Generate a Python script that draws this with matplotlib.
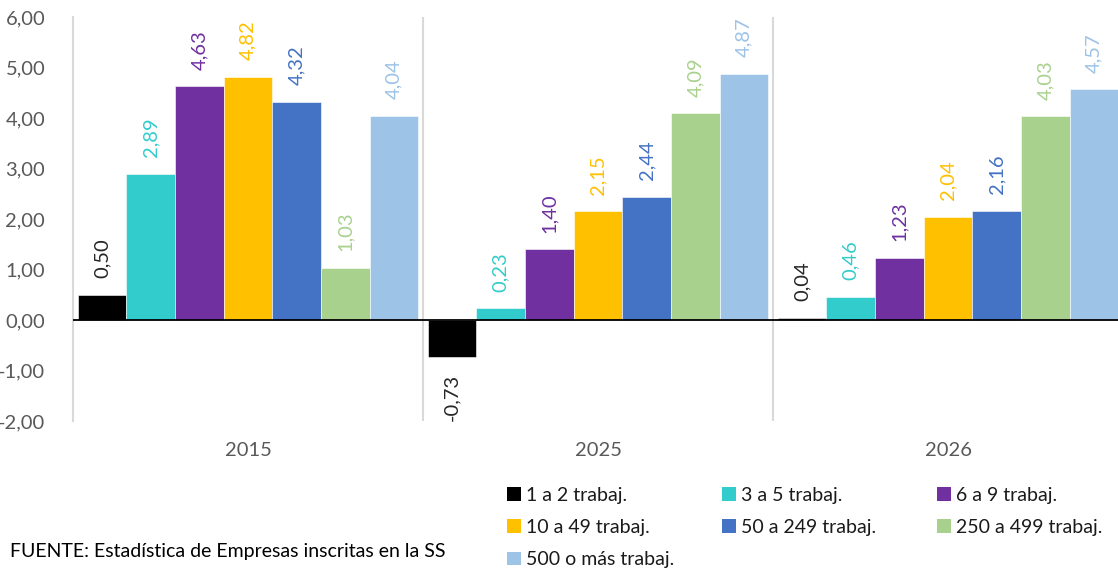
import numpy as np
import matplotlib
matplotlib.use("Agg")
import matplotlib.pyplot as plt
from matplotlib.patches import Patch

plt.rcParams['font.family'] = ['Lato', 'DejaVu Sans']

years = ["2015", "2025", "2026"]
series_names = ["1 a 2 trabaj.", "3 a 5 trabaj.", "6 a 9 trabaj.", "10 a 49 trabaj.",
                "50 a 249 trabaj.", "250 a 499 trabaj.", "500 o más trabaj."]
v_1_2 = [0.50, -0.73, 0.04]
v_3_5 = [2.89, 0.23, 0.46]
v_6_9 = [4.63, 1.40, 1.23]
v_10_49 = [4.82, 2.15, 2.04]
v_50_249 = [4.32, 2.44, 2.16]
v_250_499 = [1.03, 4.09, 4.03]
v_500 = [4.04, 4.87, 4.57]
series_vals = [v_1_2, v_3_5, v_6_9, v_10_49, v_50_249, v_250_499, v_500]
colors = ["#000000", "#33CCCC", "#7030A0", "#FFC000", "#4472C4", "#A9D18E", "#9DC3E6"]
label_colors = ["#262626", "#33CCCC", "#7030A0", "#FFC000", "#4472C4", "#A9D18E", "#9DC3E6"]

W, H = 1118, 575
fig = plt.figure(figsize=(W / 100, H / 100), dpi=100)
ax = fig.add_axes([73 / W, 1 - 421 / H, 1050 / W, 404 / H])

x = np.arange(len(years))
bw = 0.139
n = len(series_vals)
for i, (vals, c, lc, name) in enumerate(zip(series_vals, colors, label_colors, series_names)):
    pos = x - bw * n / 2 + bw * (i + 0.5)
    bars = ax.bar(pos, vals, width=bw, color=c, edgecolor='white', linewidth=0.4, label=name, zorder=2)
    for b, v in zip(bars, vals):
        txt = f"{v:.2f}".replace('.', ',')
        xc = b.get_x() + b.get_width() / 2
        if v >= 0:
            ax.annotate(txt, (xc, v), xytext=(0, 12), textcoords='offset points',
                        rotation=90, ha='center', va='bottom', color=lc, fontsize=14.5)
        else:
            ax.annotate(txt, (xc, v), xytext=(0, -12), textcoords='offset points',
                        rotation=90, ha='center', va='top', color=lc, fontsize=14.5)

ax.set_ylim(-2, 6)
ax.set_xlim(-0.5, 2.5)
ax.set_yticks(np.arange(-2, 7, 1))
ax.set_yticklabels([f"{t:.2f}".replace('.', ',') for t in np.arange(-2, 7, 1)])
ax.set_xticks(x)
ax.set_xticklabels(years)
ax.tick_params(axis='both', length=0, labelsize=14.5, colors='#595959')
ax.tick_params(axis='y', pad=20)
ax.tick_params(axis='x', pad=15)

for s in ['top', 'right', 'bottom']:
    ax.spines[s].set_visible(False)
ax.spines['left'].set_color('#D9D9D9')
ax.spines['left'].set_linewidth(1.5)
for xs in [0.5, 1.5]:
    ax.axvline(xs, color='#D9D9D9', linewidth=1.5, zorder=1)
ax.axhline(0, color='black', linewidth=1.3, zorder=3)

# legend: 3 columns filled row by row, one legend per column so columns line up evenly
handles = [Patch(facecolor=c, label=nm) for c, nm in zip(colors, series_names)]
col_x = [507, 722, 937]
for j, cx in enumerate(col_x):
    leg = fig.legend(handles=handles[j::3], ncol=1, loc='upper left',
                     bbox_to_anchor=(cx / W, 1 - 487 / H),
                     frameon=False, fontsize=14, handlelength=0.72, handleheight=0.72,
                     handletextpad=0.28, labelspacing=0.78, borderaxespad=0, borderpad=0)
    for t in leg.get_texts():
        t.set_color('#1a1a1a')

fig.text(10 / W, 1 - 551 / H, "FUENTE: Estadística de Empresas inscritas en la SS",
         fontsize=14, color='black', va='center', ha='left')

fig.savefig("out.png", dpi=100)
